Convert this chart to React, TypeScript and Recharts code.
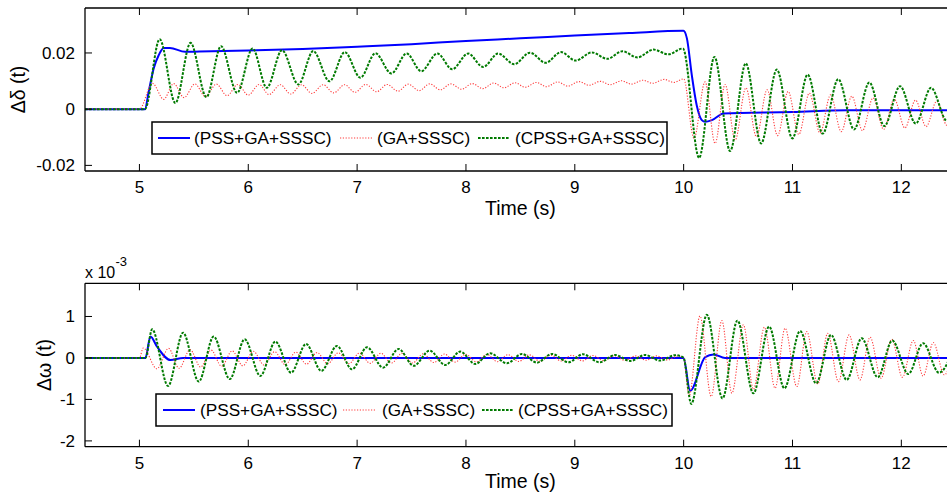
import React from 'react';
import { LineChart, Line, XAxis, YAxis } from 'recharts';

// ---------- tick values / labels ----------
const xTicks = [5, 6, 7, 8, 9, 10, 11, 12];
const topYTicks = [-0.02, 0, 0.02];
const topYTickLabels = ['-0.02', '0', '0.02'];
const botYTicks = [-2, -1, 0, 1];
const botYTickLabels = ['-2', '-1', '0', '1'];
const seriesNames = ['(PSS+GA+SSSC)', '(GA+SSSC)', '(CPSS+GA+SSSC)'];

// ---------- top panel: delta-delta ----------
const tBlueTop = [4.5, 5.05, 5.085, 5.131, 5.177, 5.223, 5.28, 5.42, 5.55, 6.0, 6.5, 7.0, 7.5, 8.0, 8.5, 9.0, 9.5, 9.998, 10.03, 10.075, 10.12, 10.167, 10.197, 10.26, 10.366, 11.0, 11.5, 12.5];
const vBlueTop = [0, 0, 0.0062, 0.0145, 0.0192, 0.0218, 0.0218, 0.0204, 0.0205, 0.0209, 0.0214, 0.0222, 0.0231, 0.0243, 0.0252, 0.0262, 0.0271, 0.0279, 0.0252, 0.0121, 0.0014, -0.0039, -0.0045, -0.0039, -0.0015, -0.001, -0.0004, -0.0004];

const tRedTop = [4.5, 5.0, 5.12, 5.223, 5.315, 5.41, 5.51, 5.606, 5.707, 5.805, 5.904, 6.0, 6.1, 6.19, 6.295, 6.39, 6.49, 6.585, 6.688, 6.785, 6.885, 6.98, 7.08, 7.18, 7.275, 7.375, 7.47, 7.57, 7.667, 7.765, 7.862, 7.96, 8.058, 8.155, 8.254, 8.35, 8.45, 8.545, 8.646, 8.74, 8.842, 8.935, 9.038, 9.13, 9.234, 9.325, 9.43, 9.52, 9.626, 9.715, 9.822, 9.91, 10.0, 10.095, 10.197, 10.289, 10.381, 10.473, 10.572, 10.669, 10.767, 10.863, 10.96, 11.058, 11.155, 11.253, 11.35, 11.448, 11.545, 11.643, 11.74, 11.838, 11.935, 12.033, 12.13, 12.228, 12.325, 12.42, 12.52];
const vRedTop = [0, 0, 0.0092, 0.0035, 0.0091, 0.0041, 0.009, 0.0045, 0.0089, 0.0048, 0.0088, 0.005, 0.0088, 0.0052, 0.0087, 0.0054, 0.0087, 0.0056, 0.0087, 0.0058, 0.0087, 0.006, 0.0088, 0.0062, 0.0088, 0.0064, 0.0089, 0.0066, 0.009, 0.0069, 0.009, 0.0071, 0.0091, 0.0073, 0.0093, 0.0076, 0.0094, 0.0078, 0.0095, 0.008, 0.0097, 0.0082, 0.0098, 0.0085, 0.0099, 0.0087, 0.0101, 0.0089, 0.0103, 0.0092, 0.0106, 0.0095, 0.0108, -0.0104, 0.0097, -0.0122, 0.0088, -0.011, 0.0076, -0.0098, 0.0069, -0.0094, 0.0063, -0.009, 0.0057, -0.0085, 0.0051, -0.008, 0.0046, -0.0076, 0.004, -0.0072, 0.0036, -0.0067, 0.0032, -0.0062, 0.0028, -0.0058, 0.0025];

const tGreenTop = [4.5, 5.05, 5.186, 5.33, 5.47, 5.615, 5.75, 5.897, 6.04, 6.17, 6.31, 6.46, 6.597, 6.746, 6.887, 7.03, 7.168, 7.315, 7.455, 7.589, 7.737, 7.874, 8.02, 8.158, 8.296, 8.443, 8.588, 8.733, 8.873, 9.007, 9.157, 9.298, 9.438, 9.576, 9.723, 9.86, 9.993, 10.142, 10.283, 10.427, 10.571, 10.712, 10.856, 10.999, 11.14, 11.278, 11.42, 11.566, 11.706, 11.844, 11.988, 12.132, 12.273, 12.42, 12.56];
const vGreenTop = [0, 0, 0.0249, 0.0022, 0.0236, 0.0043, 0.0224, 0.0058, 0.0216, 0.0076, 0.021, 0.0088, 0.0207, 0.0099, 0.0203, 0.0112, 0.0199, 0.0127, 0.0198, 0.0135, 0.0198, 0.0142, 0.0198, 0.015, 0.0198, 0.016, 0.0201, 0.0165, 0.0203, 0.0173, 0.0202, 0.0179, 0.0206, 0.0184, 0.0212, 0.0195, 0.0216, -0.0173, 0.0186, -0.0149, 0.0163, -0.0122, 0.0141, -0.0104, 0.0123, -0.0087, 0.0107, -0.0072, 0.0095, -0.006, 0.0082, -0.0051, 0.0076, -0.0042, 0.006];

// ---------- bottom panel: delta-omega (x 10^-3) ----------
const tBlueBot = [4.5, 5.055, 5.101, 5.162, 5.285, 5.4, 9.998, 10.06, 10.198, 10.274, 10.38, 12.5];
const vBlueBot = [0, 0, 0.515, 0.27, -0.05, 0, 0, -0.79, 0.02, 0.085, 0, 0];

const tRedBot = [4.5, 5.0, 5.035, 5.16, 5.268, 5.364, 5.466, 5.562, 5.658, 5.755, 5.852, 5.95, 6.047, 6.145, 6.242, 6.34, 6.437, 6.535, 6.632, 6.73, 6.827, 6.925, 7.022, 7.12, 7.217, 7.315, 7.412, 7.51, 7.607, 7.705, 7.802, 7.9, 7.997, 8.095, 8.192, 8.29, 8.387, 8.485, 8.582, 8.68, 8.777, 8.875, 8.972, 9.07, 9.167, 9.265, 9.362, 9.46, 9.557, 9.655, 9.752, 9.85, 9.947, 10.0, 10.05, 10.15, 10.253, 10.351, 10.443, 10.549, 10.641, 10.742, 10.84, 10.932, 11.04, 11.131, 11.232, 11.324, 11.422, 11.52, 11.62, 11.713, 11.814, 11.912, 12.01, 12.11, 12.2, 12.294, 12.395, 12.49];
const vRedBot = [0, 0, 0.24, -0.26, 0.23, -0.25, 0.2, -0.22, 0.19, -0.2, 0.17, -0.19, 0.16, -0.17, 0.15, -0.16, 0.14, -0.15, 0.13, -0.14, 0.125, -0.135, 0.12, -0.13, 0.115, -0.125, 0.11, -0.12, 0.1, -0.11, 0.095, -0.1, 0.09, -0.095, 0.085, -0.09, 0.08, -0.085, 0.075, -0.08, 0.07, -0.075, 0.065, -0.07, 0.06, -0.065, 0.055, -0.06, 0.05, -0.055, 0.05, -0.05, 0.045, 0, -0.92, 1.01, -0.93, 0.9, -0.85, 0.8, -0.756, 0.74, -0.73, 0.717, -0.69, 0.636, -0.63, 0.596, -0.57, 0.556, -0.53, 0.5, -0.49, 0.45, -0.467, 0.42, -0.435, 0.37, -0.41, 0.35];

const tGreenBot = [4.5, 5.055, 5.117, 5.263, 5.401, 5.545, 5.682, 5.83, 5.967, 6.111, 6.249, 6.393, 6.531, 6.671, 6.815, 6.953, 7.091, 7.238, 7.381, 7.52, 7.666, 7.81, 7.948, 8.085, 8.223, 8.376, 8.514, 8.652, 8.79, 8.942, 9.074, 9.227, 9.371, 9.509, 9.646, 9.784, 9.922, 9.998, 10.07, 10.213, 10.357, 10.494, 10.641, 10.785, 10.926, 11.07, 11.217, 11.354, 11.498, 11.636, 11.783, 11.917, 12.064, 12.2, 12.346, 12.49];
const vGreenBot = [0, 0, 0.69, -0.676, 0.61, -0.57, 0.515, -0.51, 0.45, -0.435, 0.395, -0.355, 0.338, -0.314, 0.29, -0.274, 0.258, -0.234, 0.217, -0.19, 0.177, -0.17, 0.153, -0.145, 0.113, -0.128, 0.097, -0.113, 0.097, -0.105, 0.089, -0.105, 0.072, -0.072, 0.072, -0.064, 0.068, 0.01, -1.11, 1.04, -0.975, 0.9, -0.853, 0.757, -0.733, 0.652, -0.612, 0.556, -0.53, 0.475, -0.467, 0.42, -0.386, 0.354, -0.355, 0.3];

const zip = (ts: number[], vs: number[]) => ts.map((t, i) => ({ t, v: vs[i] }));

const FONT = '"Liberation Sans", Arial, Helvetica, sans-serif';
const BLUE = '#0000ff';
const RED = '#ff3b3b';
const GREEN = '#007a00';

const XTickBottom = (props: any) => {
  const { x, y, payload } = props;
  return (
    <g>
      <line x1={x} y1={y} x2={x} y2={y - 7} stroke="#000" strokeWidth={1} />
      <text x={x} y={y + 22} textAnchor="middle" fontSize={17} fontFamily={FONT} fill="#000">
        {String(payload.value)}
      </text>
    </g>
  );
};

const XTickTop = (props: any) => {
  const { x, y } = props;
  return <line x1={x} y1={y} x2={x} y2={y + 7} stroke="#000" strokeWidth={1} />;
};

const makeYTick = (ticks: number[], labels: string[]) => (props: any) => {
  const { x, y, payload } = props;
  const idx = ticks.findIndex((v) => Math.abs(v - payload.value) < 1e-9);
  return (
    <g>
      <line x1={x} y1={y} x2={x + 7} y2={y} stroke="#000" strokeWidth={1} />
      <text x={x - 10} y={y + 6} textAnchor="end" fontSize={17} fontFamily={FONT} fill="#000">
        {idx >= 0 ? labels[idx] : ''}
      </text>
    </g>
  );
};

type Pt = { t: number; v: number };
type PanelProps = {
  top: number;
  height: number;
  plotTop: number;
  plotBottom: number;
  yDomain: [number, number];
  yTicks: number[];
  yLabels: string[];
  blue: Pt[];
  red: Pt[];
  green: Pt[];
};

const TOP_AXIS_H = 4;
const BOT_AXIS_H = 30;

const Panel = ({ top, height, plotTop, plotBottom, yDomain, yTicks, yLabels, blue, red, green }: PanelProps) => (
  <div style={{ position: 'absolute', left: 0, top }}>
    <LineChart
      width={1000}
      height={height}
      margin={{ top: plotTop - TOP_AXIS_H, right: 44.25, bottom: height - plotBottom - BOT_AXIS_H, left: 0 }}
    >
      <XAxis
        xAxisId="b"
        type="number"
        dataKey="t"
        domain={[4.5, 12.5]}
        ticks={xTicks}
        interval={0}
        height={BOT_AXIS_H}
        tickSize={0}
        tickMargin={0}
        tickLine={false}
        tick={XTickBottom}
        axisLine={{ stroke: '#000', strokeWidth: 1.3 }}
        allowDataOverflow
      />
      <XAxis
        xAxisId="t"
        orientation="top"
        type="number"
        dataKey="t"
        domain={[4.5, 12.5]}
        ticks={xTicks}
        interval={0}
        height={TOP_AXIS_H}
        tickSize={0}
        tickMargin={0}
        tickLine={false}
        tick={XTickTop}
        axisLine={{ stroke: '#000', strokeWidth: 1.3 }}
        allowDataOverflow
      />
      <YAxis
        type="number"
        domain={yDomain}
        ticks={yTicks}
        interval={0}
        width={85}
        tickSize={0}
        tickMargin={0}
        tickLine={false}
        tick={makeYTick(yTicks, yLabels)}
        axisLine={{ stroke: '#000', strokeWidth: 1.3 }}
        allowDataOverflow
      />
      <Line xAxisId="b" data={blue} dataKey="v" type="monotone" stroke={BLUE} strokeWidth={2} dot={false} activeDot={false} isAnimationActive={false} />
      <Line xAxisId="b" data={red} dataKey="v" type="monotone" stroke={RED} strokeWidth={1.1} strokeDasharray="1.2 1.6" dot={false} activeDot={false} isAnimationActive={false} />
      <Line xAxisId="b" data={green} dataKey="v" type="monotone" stroke={GREEN} strokeWidth={2} strokeDasharray="2.6 1.4" dot={false} activeDot={false} isAnimationActive={false} />
    </LineChart>
  </div>
);

const LegendBox = ({ x, y, w, h, samples, texts }: { x: number; y: number; w: number; h: number; samples: number[]; texts: number[] }) => {
  const cy = y + h / 2;
  const colors = [BLUE, RED, GREEN];
  const widths = [2, 1.1, 2];
  const dashes = [undefined, '1.2 1.6', '2.6 1.4'];
  return (
    <g>
      <rect x={x} y={y} width={w} height={h} fill="#fff" stroke="#000" strokeWidth={1.5} />
      {seriesNames.map((name, i) => (
        <g key={name}>
          <line x1={samples[i]} y1={cy} x2={samples[i] + 32} y2={cy} stroke={colors[i]} strokeWidth={widths[i]} strokeDasharray={dashes[i]} />
          <text x={texts[i]} y={cy + 6} fontSize={17.2} fontFamily={FONT} fill="#000">{name}</text>
        </g>
      ))}
    </g>
  );
};

export default function App() {
  return (
    <div style={{ position: 'fixed', left: 0, top: 0, width: 947, height: 494, overflow: 'hidden', background: '#fff', fontFamily: FONT }}>
      <Panel top={0} height={230} plotTop={8} plotBottom={171} yDomain={[-0.022, 0.036]} yTicks={topYTicks} yLabels={topYTickLabels} blue={zip(tBlueTop, vBlueTop)} red={zip(tRedTop, vRedTop)} green={zip(tGreenTop, vGreenTop)} />
      <Panel top={250} height={244} plotTop={33.3} plotBottom={196.7} yDomain={[-2.14, 1.8]} yTicks={botYTicks} yLabels={botYTickLabels} blue={zip(tBlueBot, vBlueBot)} red={zip(tRedBot, vRedBot)} green={zip(tGreenBot, vGreenBot)} />
      <svg width={947} height={494} style={{ position: 'absolute', left: 0, top: 0, pointerEvents: 'none' }}>
        <text x={520.4} y={215} fontSize={19.5} textAnchor="middle" fontFamily={FONT} fill="#000">Time (s)</text>
        <text x={520.4} y={488} fontSize={19.5} textAnchor="middle" fontFamily={FONT} fill="#000">Time (s)</text>
        <text transform="translate(25,89.5) rotate(-90)" fontSize={19.5} textAnchor="middle" fontFamily={FONT} fill="#000">Δδ (t)</text>
        <text transform="translate(51,365) rotate(-90)" fontSize={19.5} textAnchor="middle" fontFamily={FONT} fill="#000">Δω (t)</text>
        <text x={85} y={278} fontSize={16} fontFamily={FONT} fill="#000">x 10</text>
        <text x={115.5} y={266} fontSize={13} fontFamily={FONT} fill="#000">-3</text>
        <LegendBox x={152} y={122} w={515} h={32} samples={[158, 340, 478]} texts={[194, 377, 515]} />
        <LegendBox x={156} y={394} w={516} h={32} samples={[163, 343, 482]} texts={[200, 382, 518]} />
      </svg>
    </div>
  );
}
